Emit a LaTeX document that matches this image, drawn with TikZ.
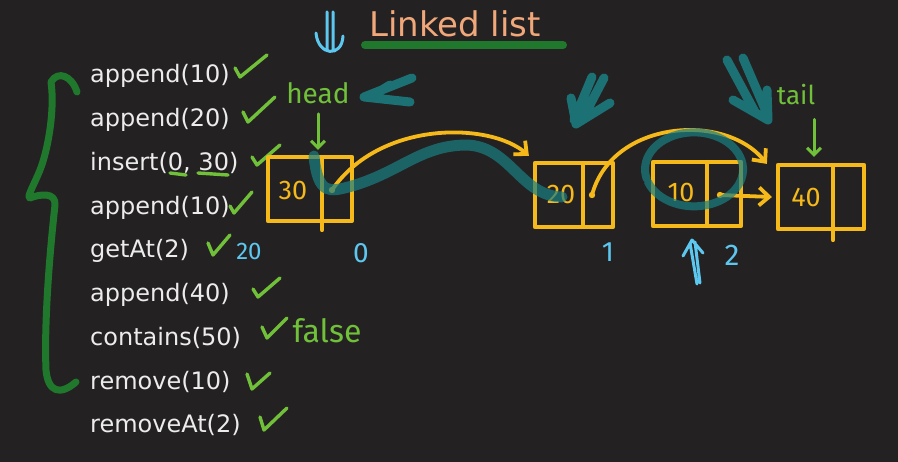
\documentclass[tikz,border=0pt]{standalone}
\usepackage{fontspec}
\setmainfont{DejaVu Sans}
\newfontfamily\hand{Fira Sans}
\usetikzlibrary{arrows.meta,calc,positioning}
\definecolor{board}{RGB}{36,33,35}
\definecolor{chalk}{RGB}{236,236,236}
\definecolor{peach}{RGB}{240,168,122}
\definecolor{deepgreen}{RGB}{32,120,44}
\definecolor{tick}{RGB}{112,192,58}
\definecolor{marker}{RGB}{246,185,26}
\definecolor{sea}{RGB}{26,128,130}
\definecolor{sky}{RGB}{92,200,240}

\begin{document}
\begin{tikzpicture}[x=1pt,y=-1pt,line cap=round,line join=round,
  op/.style={anchor=base west,inner sep=0pt,text=chalk,font=\fontsize{24}{28}\selectfont},
  ok/.style={draw=tick,line width=3.4pt},
  lbox/.style={draw=marker,line width=4.2pt,minimum width=#1,minimum height=64pt,inner sep=0pt},
  val/.style={text=marker,font=\hand\fontsize{27}{30}\selectfont,inner sep=0pt},
  note/.style={font=\hand\fontsize{#1}{#1}\selectfont,inner sep=0pt},
  link/.style={draw=marker,line width=3.8pt,-{Straight Barb[length=10pt,width=18pt]}},
  trail/.style={draw=sea,line width=11pt,opacity=.7},
  sweep/.style={draw=sea,line width=9pt,opacity=.85}]
\fill[board] (0,0) rectangle (898,462);
% title
\node[text=peach,font=\fontsize{34}{38}\selectfont] (title) at (455,24) {Linked list};
\draw[deepgreen,line width=8pt] (365,45) -- (563,45);
% operations
\foreach \t [count=\i] in {append(10),append(20),{insert(0, 30)},append(10),getAt(2),append(40),contains(50),remove(10),removeAt(2)}
  \node[op] (op\i) at (90,{83+(\i-1)*43.75}) {\t};
\foreach \a/\b/\c/\d/\e/\f in {235/68/240/77/267/55,243/112/248/122/275/97,252/157/257/165/280/145,230/206/234/213/252/192,
  208/243/213/255/230/235,253/289/258/297/280/278,262/327/267/338/287/318,247/374/252/389/270/373,260/417/264/430/287/408}
  \draw[ok] (\a,\b) -- (\c,\d) -- (\e,\f);
\draw[ok] (170,173) -- (186,175) (198,173) -- (228,175);
% brace
\draw[deepgreen,line width=7pt] (77,92) .. controls (72,76) and (58,70) .. (51,82)
  .. controls (55,110) and (48,150) .. (40,170) .. controls (34,185) and (26,198) .. (30,198)
  .. controls (40,194) and (56,192) .. (55,205) .. controls (50,250) and (44,320) .. (46,370)
  .. controls (48,392) and (60,396) .. (76,382);
% nodes of the list
\node[lbox=84pt] (b30) at (310,189) {};
\node[lbox=78pt] (b20) at (574,195) {};
\node[lbox=88pt] (b10) at (697,194) {};
\node[lbox=86pt] (b40) at (821,197) {};
\draw[marker,line width=4.2pt] (322,157) -- (322,230) (583,163) -- (583,227) (707,162) -- (707,226) (833,165) -- (833,240);
\node[val] (v30) at (293,190) {30};
\node[val] (v20) at (561,194) {20};
\node[val] (v10) at (681,192) {10};
\node[val] (v40) at (806,197) {40};
\coordinate (p30) at (332,190);
\coordinate (p20) at (592,195);
\coordinate (p10) at (720,195);
\foreach \p in {p30,p20,p10} \fill[marker] (\p) circle (3.2pt);
\draw[link] (p30) .. controls (380,120) and (490,122) .. ([xshift=-4pt,yshift=5pt]b20.north west);
\draw[link] (p20) .. controls (612,120) and (725,112) .. ([xshift=-9pt,yshift=-1pt]b40.north west);
\draw[link] (p10) -- ([xshift=-4pt]b40.west);
% deleted node path
\draw[trail] (314,156) .. controls (318,196) and (330,192) .. (352,186)
  .. controls (400,172) and (420,146) .. (465,145) .. controls (510,145) and (520,196) .. (562,197);
\draw[trail,line width=8pt] (648,182) arc[start angle=160,end angle=-195,x radius=49,y radius=37];
\draw[sweep] (412,78) -- (364,97) -- (410,102) (390,85) -- (372,96);
\draw[sweep] (592,77) -- (574,120) (604,78) -- (582,120) (610,103) -- (576,124) -- (571,98);
\draw[sweep] (727,60) -- (755,112) (743,58) -- (768,116) (733,100) -- (768,120) -- (767,90);
% pointers
\node[note=28,text=tick] (head) at (318,93) {head};
\draw[tick,line width=3pt,-{Straight Barb[length=7pt,width=14pt]},shorten <=10pt,shorten >=5pt] (head.south) -- (head.south |- b30.north);
\node[note=26,text=tick] (tail) at (796,95) {tail};
\draw[tick,line width=3pt,-{Straight Barb[length=7pt,width=14pt]},shorten <=14pt,shorten >=6pt] ([xshift=18pt]tail.south) -- ([xshift=18pt]tail.south |- b40.north);
\draw[sky,line width=3pt] (327,12) -- (327,50) (333,12) -- (333,50) (316,33) .. controls (318,56) and (342,58) .. (343,36);
% indices
\node[note=24,text=sky] (r20) at (249,251) {20};
\node[note=28,text=sky] (i0) at (361,253) {0};
\node[note=28,text=sky] (i1) at (608,252) {1};
\node[note=30,text=sky] (i2) at (732,255) {2};
\node[note=32,text=tick] (res) at (327,331) {false};
\draw[sky,line width=3pt] (690,243) -- (697,284) (695,242) -- (700,283) (683,256) -- (692,240) -- (703,253);
\end{tikzpicture}
\end{document}
